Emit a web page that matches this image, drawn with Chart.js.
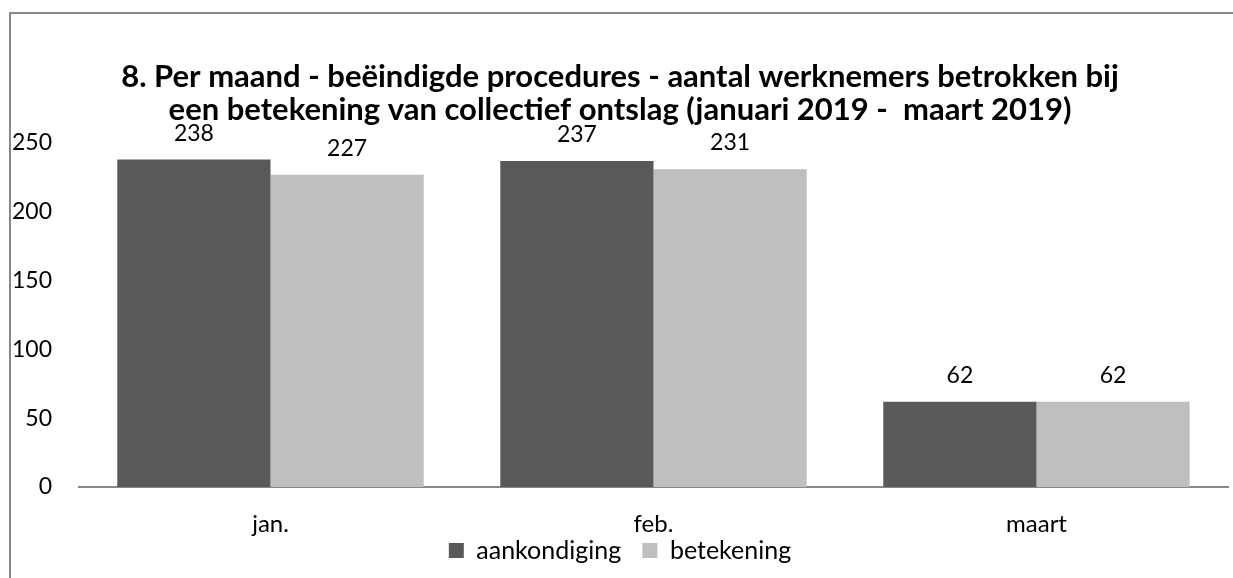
<!DOCTYPE html>
<html>
<head>
<meta charset="utf-8">
<script src="https://cdn.jsdelivr.net/npm/chart.js@4.4.1/dist/chart.umd.min.js"></script>
<style>
    body { margin: 0; background: #fff; }
    .frame {
        position: absolute;
        left: 9px;
        top: 12px;
        width: 1400px;
        height: 800px;
        border-left: 2px solid #888;
        border-top: 2px solid #888;
    }
    #myChart { position: absolute; left: 0; top: 0; }
</style>
</head>
<body>
<div class="frame"></div>
<canvas id="myChart" width="1233" height="578"></canvas>
<script>
const months = ['jan.', 'feb.', 'maart'];
const aankondiging = [238, 237, 62];
const betekening = [227, 231, 62];
const y_ticks = [0, 50, 100, 150, 200, 250];
const title_lines = [
    '8. Per maand - beëindigde procedures - aantal werknemers betrokken bij',
    'een betekening van collectief ontslag (januari 2019 -  maart 2019)'
];

const font_family = 'Lato, "Open Sans", sans-serif';

// waarden boven de staven
const value_labels = {
    id: 'value_labels',
    afterDatasetsDraw(chart) {
        const ctx = chart.ctx;
        ctx.save();
        ctx.font = '23px ' + font_family;
        ctx.fillStyle = '#000';
        ctx.textAlign = 'center';
        ctx.textBaseline = 'alphabetic';
        chart.data.datasets.forEach((ds, i) => {
            chart.getDatasetMeta(i).data.forEach((bar, j) => {
                ctx.fillText(ds.data[j], bar.x, bar.y - 19);
            });
        });
        ctx.restore();
    }
};

const ctx = document.getElementById('myChart').getContext('2d');
const myChart = new Chart(ctx, {
    type: 'bar',
    data: {
        labels: months,
        datasets: [{
            label: 'aankondiging   ',
            data: aankondiging,
            backgroundColor: '#595959',
            categoryPercentage: 0.8,
            barPercentage: 1
        }, {
            label: 'betekening',
            data: betekening,
            backgroundColor: '#bfbfbf',
            categoryPercentage: 0.8,
            barPercentage: 1
        }]
    },
    options: {
        responsive: false,
        animation: false,
        devicePixelRatio: 1,
        layout: { padding: { left: 12, right: 5, top: 0, bottom: 5 } },
        plugins: {
            title: {
                display: true,
                text: title_lines,
                color: '#000',
                font: { family: font_family, size: 31, weight: 'bold', lineHeight: '33px' },
                padding: { top: 60, bottom: 17 }
            },
            legend: {
                position: 'bottom',
                labels: {
                    color: '#000',
                    font: { family: font_family, size: 25, lineHeight: 1 },
                    boxWidth: 15,
                    boxHeight: 15,
                    padding: 2
                }
            },
            tooltip: { enabled: false }
        },
        scales: {
            x: {
                grid: { display: false, drawTicks: false },
                border: { display: true, color: '#888', width: 2 },
                ticks: { color: '#000', font: { family: font_family, size: 24, lineHeight: 1 }, padding: 25 },
                afterFit(scale) { scale.height = scale.height - 25; }
            },
            y: {
                min: 0,
                max: 250,
                grid: { display: false, drawTicks: false },
                border: { display: false },
                afterBuildTicks(scale) { scale.ticks = y_ticks.map(v => ({ value: v })); },
                ticks: { color: '#000', font: { family: font_family, size: 23 }, padding: 27 },
                afterFit(scale) { scale.width = 67; }
            }
        }
    },
    plugins: [value_labels]
});
</script>
</body>
</html>
